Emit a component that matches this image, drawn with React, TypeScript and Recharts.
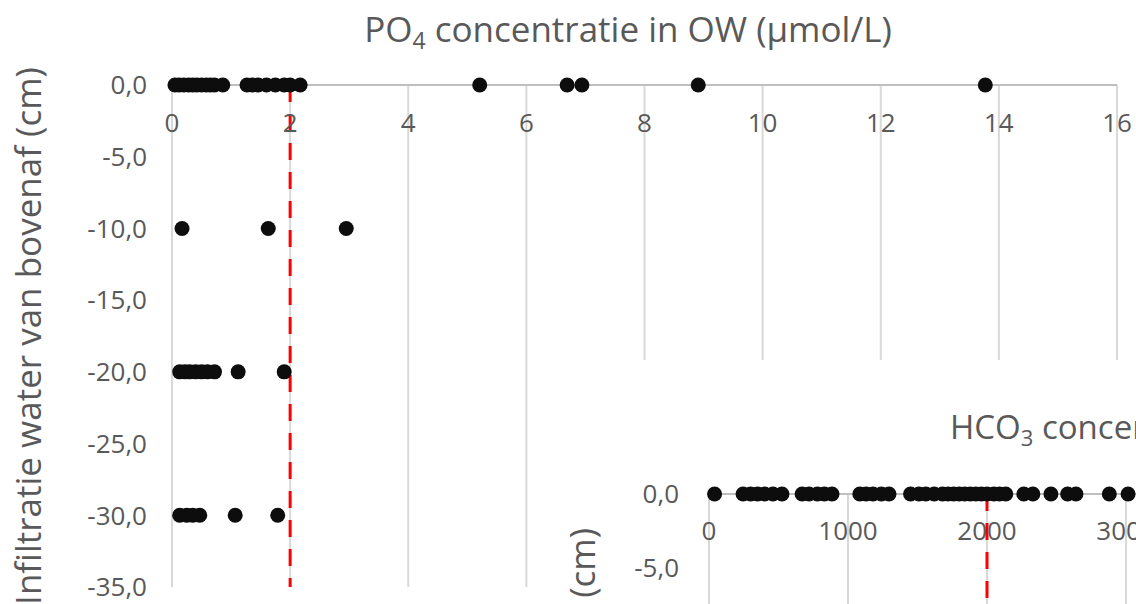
import {
  CartesianGrid,
  ReferenceLine,
  Scatter,
  ScatterChart,
  XAxis,
  YAxis,
} from "recharts";

// PO4 (µmol/L) per infiltration depth
const po4Ticks = [0, 2, 4, 6, 8, 10, 12, 14, 16];
const depthTicks = [0, -5, -10, -15, -20, -25, -30, -35];

const po4AtSurface = [
  0.05, 0.12, 0.2, 0.28, 0.35, 0.42, 0.5, 0.58, 0.65, 0.72, 0.86, 1.27, 1.36,
  1.46, 1.6, 1.75, 1.9, 2.0, 2.17, 5.21, 6.69, 6.94, 8.91, 13.77,
];
const po4At10 = [0.17, 1.63, 2.95];
const po4At20 = [0.13, 0.22, 0.3, 0.4, 0.5, 0.6, 0.72, 1.12, 1.9];
const po4At30 = [0.13, 0.25, 0.35, 0.47, 1.07, 1.79];

// HCO3 (µmol/L), second chart lying over the first one
const hco3Ticks = [0, 1000, 2000, 3000, 4000, 5000, 6000];
const hco3AtSurface = [
  40, 245, 300, 350, 400, 460, 525, 670, 720, 780, 830, 885, 1085, 1130, 1180,
  1240, 1295, 1450, 1510, 1560, 1620, 1680, 1720, 1760, 1800, 1840, 1880, 1920,
  1960, 2000, 2050, 2090, 2135, 2265, 2330, 2460, 2580, 2640, 2880, 3015,
];

const toPoints = (values: number[], depth: number) =>
  values.map((x) => ({ x, depth }));

const po4Data = [
  ...toPoints(po4AtSurface, 0),
  ...toPoints(po4At10, -10),
  ...toPoints(po4At20, -20),
  ...toPoints(po4At30, -30),
];
const hco3Data = toPoints(hco3AtSurface, 0);

const GREY = "#595959";
const FONT = "'Open Sans', sans-serif";
const tickStyle = { fill: GREY, fontSize: 26, fontFamily: FONT };
const yLabel = "Infiltratie water van bovenaf (cm)";

const formatDepth = (v: number) => v.toFixed(1).replace(".", ",");

const Dot = (props: any) => (
  <circle cx={props.cx} cy={props.cy} r={7.5} fill="#0d0d0d" />
);

export default function App() {
  return (
    <div
      style={{
        position: "absolute",
        left: 0,
        top: 0,
        width: 1136,
        height: 604,
        overflow: "hidden",
        background: "#fff",
        fontFamily: FONT,
      }}
    >
      <ScatterChart
        width={1136}
        height={604}
        margin={{ top: 85, right: 19, bottom: 17, left: 0 }}
      >
        <CartesianGrid horizontal={false} stroke="#d9d9d9" strokeWidth={2} />
        <XAxis
          type="number"
          dataKey="x"
          orientation="top"
          mirror
          domain={[0, 16]}
          ticks={po4Ticks}
          tick={tickStyle}
          tickLine={false}
          tickSize={0}
          tickMargin={29}
          axisLine={{ stroke: "#bfbfbf", strokeWidth: 2 }}
        />
        <YAxis
          type="number"
          dataKey="depth"
          domain={[-35, 0]}
          ticks={depthTicks}
          tickFormatter={formatDepth}
          tick={tickStyle}
          tickLine={false}
          axisLine={false}
          tickSize={0}
          tickMargin={25}
          width={172}
          label={{
            value: yLabel,
            angle: -90,
            position: "insideLeft",
            offset: 29,
            style: {
              textAnchor: "middle",
              fill: GREY,
              fontSize: 35,
              fontFamily: FONT,
            },
          }}
        />
        <ReferenceLine
          x={2}
          stroke="#ff0000"
          strokeWidth={3}
          strokeDasharray="17 12"
        />
        <Scatter data={po4Data} shape={Dot} isAnimationActive={false} />
      </ScatterChart>

      <svg
        width={1136}
        height={70}
        style={{ position: "absolute", left: 0, top: 0, pointerEvents: "none" }}
      >
        <text
          x={628}
          y={42}
          textAnchor="middle"
          fill={GREY}
          fontSize={35}
          fontFamily={FONT}
        >
          PO
          <tspan dy={7} fontSize={23}>
            4
          </tspan>
          <tspan dy={-7}> concentratie in OW (µmol/L)</tspan>
        </text>
      </svg>

      <div
        style={{
          position: "absolute",
          left: 540,
          top: 360,
          width: 596,
          height: 244,
          overflow: "hidden",
          background: "#fff",
        }}
      >
        <ScatterChart
          width={1023}
          height={672}
          margin={{ top: 134, right: 20, bottom: 20, left: 0 }}
        >
          <CartesianGrid horizontal={false} stroke="#d9d9d9" strokeWidth={2} />
          <XAxis
            type="number"
            dataKey="x"
            orientation="top"
            mirror
            domain={[0, 6000]}
            ticks={hco3Ticks}
            tick={tickStyle}
            tickLine={false}
            tickSize={0}
            tickMargin={28}
            axisLine={{ stroke: "#bfbfbf", strokeWidth: 2 }}
          />
          <YAxis
            type="number"
            dataKey="depth"
            domain={[-35, 0]}
            ticks={depthTicks}
            tickFormatter={formatDepth}
            tick={tickStyle}
            tickLine={false}
            axisLine={false}
            tickSize={0}
            tickMargin={30}
            width={169}
          />
          <ReferenceLine
            x={2000}
            stroke="#ff0000"
            strokeWidth={3}
            strokeDasharray="17 12"
          />
          <Scatter data={hco3Data} shape={Dot} isAnimationActive={false} />
        </ScatterChart>
        <svg
          width={596}
          height={244}
          style={{ position: "absolute", left: 0, top: 0, pointerEvents: "none" }}
        >
          <text
            x={410}
            y={79}
            fill={GREY}
            fontSize={33}
            fontFamily={FONT}
          >
            HCO
            <tspan dy={7} fontSize={22}>
              3
            </tspan>
            <tspan dy={-7}> concentratie in OW (µmol/L)</tspan>
          </text>
          <text
            transform="translate(41,168) rotate(-90)"
            textAnchor="end"
            dominantBaseline="central"
            fill={GREY}
            fontSize={35}
            fontFamily={FONT}
          >
            {yLabel}
          </text>
        </svg>
      </div>
    </div>
  );
}
